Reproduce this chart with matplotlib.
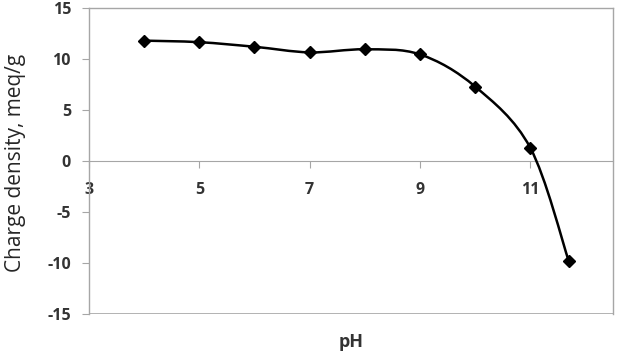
import matplotlib.pyplot as plt
from matplotlib.path import Path
from matplotlib.patches import PathPatch
import numpy as np

plt.rcParams['axes.unicode_minus'] = False

ph = [4, 5, 6, 7, 8, 9, 10, 11, 11.7]
charge = [11.8, 11.65, 11.2, 10.65, 10.95, 10.45, 7.3, 1.3, -9.85]
xticks = [3, 5, 7, 9, 11]
yticks = [-15, -10, -5, 0, 5, 10, 15]


def smooth_path(xs, ys):
    # excel-style smoothed line: catmull-rom turned into bezier segments
    pts = np.column_stack([xs, ys])
    padded = np.vstack([pts[0], pts, pts[-1]])
    verts = [pts[0]]
    codes = [Path.MOVETO]
    for i in range(len(pts) - 1):
        p0, p1, p2, p3 = padded[i], padded[i + 1], padded[i + 2], padded[i + 3]
        c1 = p1 + (p2 - p0) / 6
        c2 = p2 - (p3 - p1) / 6
        verts += [c1, c2, p2]
        codes += [Path.CURVE4] * 3
    return Path(verts, codes)


fig = plt.figure(figsize=(6.19, 3.6), dpi=100)
ax = fig.add_axes([89 / 619, 1 - 314 / 360, (613 - 89) / 619, (314 - 8) / 360])

grey = '#a6a6a6'
txt = '#333333'
font = 'Open Sans'

ax.add_patch(PathPatch(smooth_path(ph, charge), facecolor='none', edgecolor='black', lw=1.8, zorder=3))
ax.plot(ph, charge, linestyle='none', marker='D', markersize=6.5, color='black', zorder=4)

ax.set_xlim(3, 12.5)
ax.set_ylim(-15, 15)
ax.set_xticks(xticks)
ax.set_yticks(yticks)

for s in ['top', 'right', 'left']:
    ax.spines[s].set_color(grey)
    ax.spines[s].set_linewidth(1)
ax.spines['bottom'].set_position(('data', 0))
ax.spines['bottom'].set_color(grey)
ax.axhline(-15, color=grey, lw=1.2, zorder=1)

ax.tick_params(axis='x', direction='out', length=5, color=grey, pad=10, labelsize=11.5, labelcolor=txt)
ax.tick_params(axis='y', direction='out', length=5, color=grey, pad=8, labelsize=11.5, labelcolor=txt)
for lab in ax.get_xticklabels() + ax.get_yticklabels():
    lab.set_fontweight('bold')
    lab.set_family(font)

fig.text(351 / 619, 1 - 342 / 360, 'pH', ha='center', va='center', fontsize=13,
         fontweight='bold', color=txt, family=font)
fig.text(16 / 619, 1 - 163 / 360, 'Charge density, meq/g', ha='center', va='center',
         rotation=90, fontsize=15, color='#262626', family=font)

fig.savefig('out.png', dpi=100)
